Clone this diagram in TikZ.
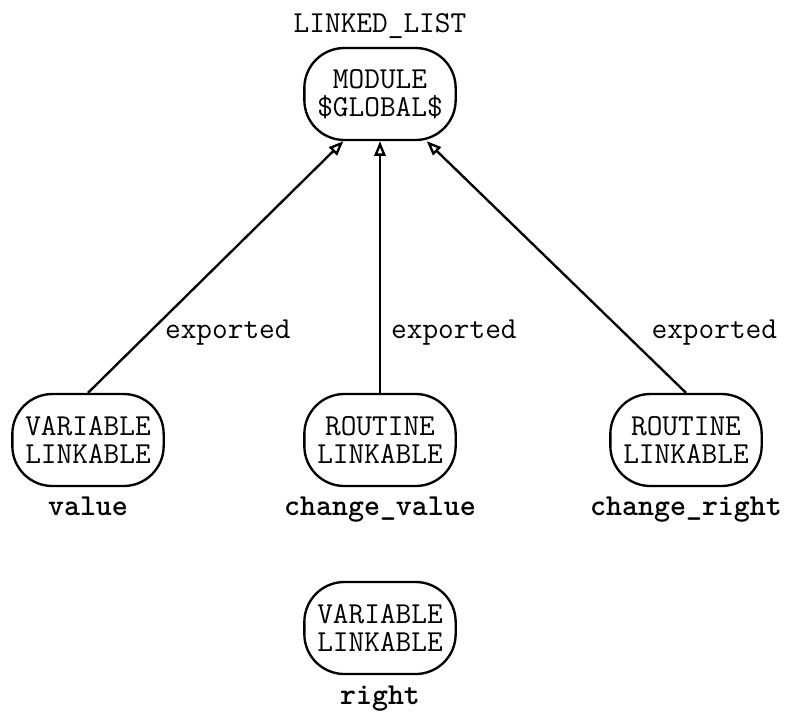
\documentclass[tikz,border=0pt]{standalone}
\usetikzlibrary{positioning,arrows.meta}

\begin{document}
\begin{tikzpicture}[
	every node/.style = { font=\fontsize{13}{12}\selectfont\ttfamily },
	blob/.style = { draw, rounded corners=0.6cm, line width=1pt,
		minimum width=2.27cm, minimum height=1.38cm, inner sep=0pt, align=center },
	tag/.style = { inner sep=0pt, font=\fontsize{13}{12}\selectfont\ttfamily\bfseries },
	lbl/.style = { inner sep=0pt },
	uses/.style = { line width=1pt, -{Triangle[open,length=0.22cm,width=0.17cm]} }]

  \useasboundingbox (0,0) rectangle (11.79,-10.71);

  \node[blob] (mod) at (5.70,-1.41) {MODULE\\\$GLOBAL\$};
  \node[lbl, above=0.12cm of mod] (modname) {LINKED\_LIST};

  \node[blob] (val) at (1.32,-6.60) {VARIABLE\\LINKABLE};
  \node[tag, below=0.14cm of val] (valname) {value};
  \node[blob] (chv) at (5.70,-6.60) {ROUTINE\\LINKABLE};
  \node[tag, below=0.14cm of chv] (chvname) {change\_value};
  \node[blob] (chr) at (10.29,-6.60) {ROUTINE\\LINKABLE};
  \node[tag, below=0.14cm of chr] (chrname) {change\_right};

  \node[blob] (rgt) at (5.70,-9.42) {VARIABLE\\LINKABLE};
  \node[tag, below=0.16cm of rgt] (rgtname) {right};

  \draw[uses] (val.north) -- node[lbl, pos=0.24, right=0.22cm] {exported} ([xshift=-0.55cm]mod.south);
  \draw[uses] (chv.north) -- node[lbl, pos=0.24, right=0.15cm] {exported} (mod.south);
  \draw[uses] (chr.north) -- node[lbl, pos=0.24, right=0.4cm] {exported} ([xshift=0.7cm]mod.south);
\end{tikzpicture}
\end{document}
